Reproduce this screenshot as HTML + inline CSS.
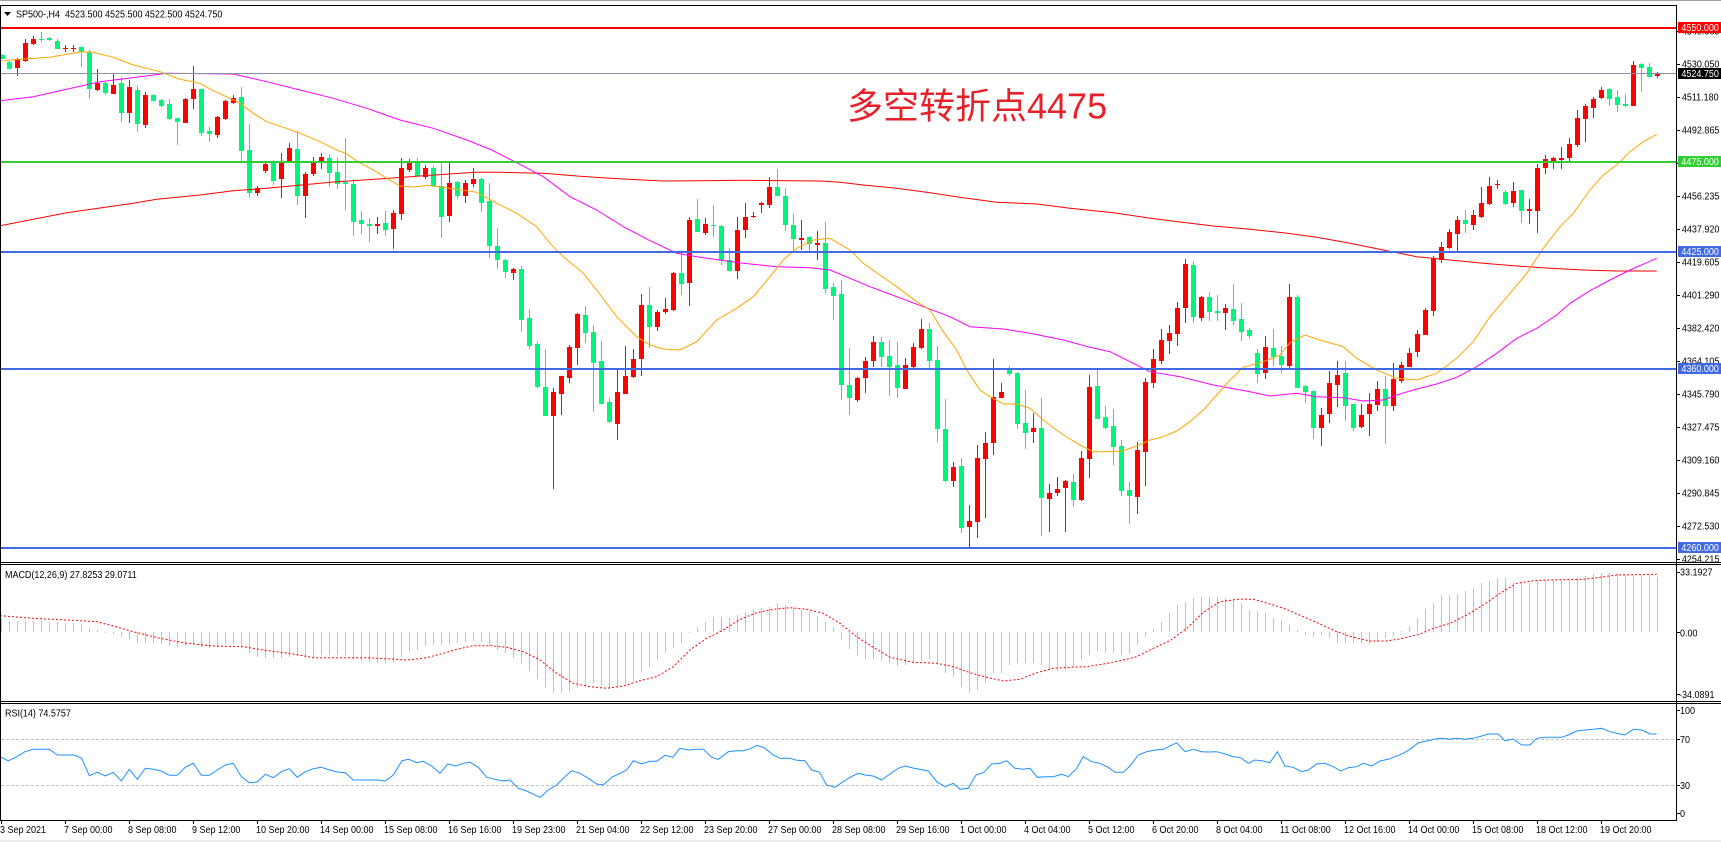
<!DOCTYPE html>
<html><head><meta charset="utf-8"><style>
html,body{margin:0;padding:0;background:#fff;overflow:hidden}
svg{display:block}
text{font-family:"Liberation Sans",Arial,sans-serif}
</style></head><body>
<svg width="1721" height="842" viewBox="0 0 1721 842" xmlns="http://www.w3.org/2000/svg">
<rect x="0" y="0" width="1721" height="842" fill="#fff"/>
<rect x="0" y="0" width="1721" height="1" fill="#a0a0a0"/>
<rect x="0" y="840" width="1721" height="2" fill="#ececec"/>

<!-- MACD histogram -->
<path fill="none" stroke="#c0c0c0" stroke-width="1" shape-rendering="crispEdges" d="M1.5 632V619M9.5 632V621M17.5 632V621M25.5 632V621M33.5 632V621M41.5 632V621M49.5 632V622M57.5 632V622M65.5 632V623M73.5 632V623M81.5 632V624M89.5 632V628M97.5 632V630M105.5 632V633M113.5 632V634M121.5 632V637M129.5 632V639M137.5 632V643M145.5 632V643M153.5 632V643M161.5 632V644M169.5 632V646M177.5 632V647M185.5 632V646M193.5 632V644M201.5 632V647M209.5 632V648M217.5 632V647M225.5 632V644M233.5 632V644M241.5 632V647M249.5 632V653M257.5 632V657M265.5 632V658M273.5 632V658M281.5 632V658M289.5 632V657M297.5 632V656M305.5 632V657M313.5 632V658M321.5 632V655M329.5 632V655M337.5 632V655M345.5 632V656M353.5 632V659M361.5 632V661M369.5 632V662M377.5 632V663M385.5 632V663M393.5 632V662M401.5 632V657M409.5 632V652M417.5 632V650M425.5 632V646M433.5 632V645M441.5 632V645M449.5 632V644M457.5 632V643M465.5 632V642M473.5 632V641M481.5 632V642M489.5 632V646M497.5 632V650M505.5 632V653M513.5 632V658M521.5 632V664M529.5 632V671M537.5 632V679M545.5 632V688M553.5 632V693M561.5 632V693M569.5 632V692M577.5 632V687M585.5 632V687M593.5 632V683M601.5 632V685M609.5 632V688M617.5 632V687M625.5 632V685M633.5 632V681M641.5 632V672M649.5 632V667M657.5 632V660M665.5 632V653M673.5 632V648M681.5 632V643M689.5 632V633M697.5 632V627M705.5 632V622M713.5 632V617M721.5 632V617M729.5 632V618M737.5 632V615M745.5 632V612M753.5 632V610M761.5 632V608M769.5 632V607M777.5 632V603M785.5 632V605M793.5 632V608M801.5 632V610M809.5 632V612M817.5 632V616M825.5 632V622M833.5 632V627M841.5 632V640M849.5 632V649M857.5 632V656M865.5 632V659M873.5 632V659M881.5 632V661M889.5 632V663M897.5 632V666M905.5 632V665M913.5 632V663M921.5 632V660M929.5 632V659M937.5 632V665M945.5 632V673M953.5 632V677M961.5 632V687M969.5 632V693M977.5 632V690M985.5 632V683M993.5 632V673M1001.5 632V673M1009.5 632V665M1017.5 632V663M1025.5 632V663M1033.5 632V663M1041.5 632V665M1049.5 632V670M1057.5 632V671M1065.5 632V670M1073.5 632V667M1081.5 632V660M1089.5 632V655M1097.5 632V651M1105.5 632V653M1113.5 632V653M1121.5 632V655M1129.5 632V654M1137.5 632V645M1145.5 632V637M1153.5 632V629M1161.5 632V622M1169.5 632V613M1177.5 632V605M1185.5 632V602M1193.5 632V598M1201.5 632V597M1209.5 632V597M1217.5 632V597M1225.5 632V598M1233.5 632V600M1241.5 632V603M1249.5 632V610M1257.5 632V611M1265.5 632V613M1273.5 632V618M1281.5 632V620M1289.5 632V625M1297.5 632V630M1305.5 632V635M1313.5 632V637M1321.5 632V635M1329.5 632V638M1337.5 632V643M1345.5 632V643M1353.5 632V643M1361.5 632V643M1369.5 632V644M1377.5 632V642M1385.5 632V638M1393.5 632V635M1401.5 632V631M1409.5 632V626M1417.5 632V618M1425.5 632V609M1433.5 632V603M1441.5 632V595M1449.5 632V595M1457.5 632V594M1465.5 632V591M1473.5 632V588M1481.5 632V583M1489.5 632V581M1497.5 632V578M1505.5 632V578M1513.5 632V582M1521.5 632V582M1529.5 632V583M1537.5 632V581M1545.5 632V580M1553.5 632V580M1561.5 632V580M1569.5 632V580M1577.5 632V578M1585.5 632V576M1593.5 632V574M1601.5 632V573M1609.5 632V573M1617.5 632V573M1625.5 632V575M1633.5 632V575M1641.5 632V575M1649.5 632V575M1657.5 632V577"/>
<!-- MACD signal -->
<polyline fill="none" stroke="#ff0000" stroke-width="1" stroke-dasharray="2 2" points="0,615.7 33.3,618.3 66.7,620 96.7,621.7 113.3,626 133.3,631.7 160,638.3 186.7,643.3 213.3,646 243.3,646.7 263.3,650 293.3,654 313.3,657.7 366.7,657.7 390,659 406.7,660 423.3,658.3 440,654.3 456.7,649.3 473.3,645.7 490,645.7 506.7,647.3 523.3,651.7 540,660 556.7,673.3 573.3,683.3 590,686.7 606.7,688.3 623.3,686 640,680.7 656.7,676.7 673.3,666.7 690,650 706.7,638.3 723.3,630 740,619.3 756.7,612.7 773.3,609.3 790,607.7 806.7,609.3 823.3,613.3 840,623.3 856.7,636.7 873.3,647.3 890,657.3 912.7,662.3 936.7,663.3 953.3,666.7 970,672.7 986.7,677.3 1003.3,681 1020,679.3 1036.7,672.7 1053.3,668.3 1070,667.3 1086.7,666.7 1103.3,664 1120,660.7 1136.7,656.7 1153.3,648.3 1170,640.7 1186.7,628.3 1203.3,612.3 1220,601.7 1240,599 1253.3,599.3 1270,604 1286.7,609.3 1303.3,616.7 1320,624 1336.7,631.7 1353.3,637.3 1370,641 1386.7,641 1403.3,638.3 1420,634 1433.3,628.3 1450,623.3 1466.7,615 1483.3,605 1500,593.3 1516.7,583.3 1533.3,580.7 1550,580 1583.3,579.3 1600,577.3 1616.7,575 1656.7,574.3"/>

<!-- RSI levels -->
<path stroke="#c0c0c0" stroke-width="1" stroke-dasharray="3 2" shape-rendering="crispEdges" d="M1 739.5H1676M1 785.5H1676"/>
<polyline fill="none" stroke="#1e90ff" stroke-width="1" points="0,756.7 8.3,761 16.7,756.7 25,751.7 33.3,749.3 49.3,749.3 57.3,755 74,755 81.7,758.3 89.3,775.7 97.3,772.3 105.3,776 113.3,772.3 121.3,781 129.3,769.3 137.3,779.3 145.3,768.3 153.3,769.3 161.3,771 169.3,775.3 177.3,775.3 185.3,767.3 193.3,763.3 201.3,775.3 209.3,775.3 217.3,770 225.3,765 233.3,763.3 241.3,776.7 249.3,782.7 257.3,782 265.3,774.3 273.3,777.7 281.3,771.7 289.3,768.7 297.3,777.3 305.3,771.7 313.3,768.7 321.3,767.3 329.3,770 337.3,772 345.3,772.7 353.3,780 377.3,780 385.3,781 393.3,775 402,760.7 408.7,759.3 416.7,762.7 423.3,761.3 431.7,766 440,773.3 447.7,764 455.7,766 463.3,763.3 470,762.3 478.3,767.3 486.7,777.3 495,779.3 503.3,781 510,780 518.3,788.3 526.7,791 533.3,794.3 540,797.3 548.3,790 556.7,785 563.3,778.3 571.7,770.7 580,773.3 588.3,778.3 596.7,784 603.3,785 611.7,777.3 620,773.3 626.7,770 633.3,760.7 641.7,764 649.3,761.3 656.7,761.3 665,755.3 672.7,757.3 680,748.3 688.3,750 696,749.3 703.3,749.3 711.7,757.3 718.3,759.3 728.3,751.7 736.7,750.7 743.3,750.7 750,748.7 757.3,745.3 765,748.3 773.3,755 780,758.3 790,758.3 796.7,760.3 805,760.7 811.7,770 819.3,772 826.7,785 835,787.3 841.7,782.7 850,777.3 858.3,773.3 865,775 873.3,776 881.7,780 890,774 898.3,768.3 905,766 913,768 928.3,771 936.7,781.7 945,786.7 953.3,783.3 960,789.3 968.3,788.3 976,775 983.3,772.7 991.7,764 1000,763.3 1006.7,760.7 1015,768.3 1022.7,769.3 1030,768.3 1037.3,777.3 1046.7,776.7 1053.3,776.7 1061.7,774.3 1068.3,776.7 1076.7,768.3 1083.3,756.7 1091.7,761.7 1100,763.3 1108.3,767.3 1115,772.3 1123.3,772.3 1130,766 1138.3,755 1146.7,751.7 1155,750 1163.3,749.3 1176.7,742.7 1185,751.7 1193.3,749.3 1201.7,751.7 1208.3,752 1216.7,751.7 1225,754 1233.3,756.7 1240,757.3 1248.3,763.3 1255,760 1263.3,761 1270,762.7 1277.3,751.7 1285,766 1293.3,767.3 1301.7,771.7 1308.3,770 1316.7,764 1325,763.3 1333.3,766.7 1340.7,771 1348.3,767.7 1356.7,766.7 1363.3,763.3 1371.7,766 1380,761 1388.3,759.3 1395,756.7 1403.3,753.3 1410,749.3 1418.3,742.7 1426.7,741 1435,739 1442.7,738.3 1450,739.3 1456.7,738.3 1465,739.3 1473.3,738.3 1481.7,736 1488.3,734 1498.3,734 1505,740.7 1513.3,739 1521.7,745 1530,745 1536.7,738.3 1545,737.3 1561.7,737.3 1568.3,735 1576.7,731 1585,730 1593.3,729.3 1601.7,728.3 1610,731.7 1616.7,733.3 1625,735 1633.3,729.3 1641.7,730 1650,734 1656.7,734"/>

<!-- candles: red (up) -->
<path fill="none" stroke="#ff0000" stroke-width="1" shape-rendering="crispEdges" d="M17.5 58V76M25.5 39V62M33.5 36V45M65.5 45V52M73.5 45V52M97.5 69V91M113.5 74V94M129.5 80V123M145.5 92V128M185.5 98V123M193.5 66V109M217.5 116V138M225.5 100V120M233.5 95V104M257.5 186V196M265.5 163V173M281.5 153V198M289.5 143V163M305.5 172V218M313.5 157V176M321.5 153V169M377.5 217V234M393.5 210V249M401.5 158V220M409.5 159V172M425.5 165V179M449.5 163V222M465.5 180V203M473.5 168V187M513.5 268V280M553.5 388V489M561.5 376V415M569.5 345V383M577.5 313V365M617.5 370V440M625.5 346V394M633.5 349V378M641.5 294V376M657.5 310V331M665.5 298V314M673.5 272V311M689.5 217V306M705.5 218V235M737.5 217V279M745.5 203V238M753.5 212V218M761.5 202V213M769.5 177V208M801.5 220V250M817.5 231V260M857.5 377V402M865.5 357V393M873.5 336V367M905.5 358V389M913.5 343V368M921.5 319V349M953.5 462V487M969.5 505V549M977.5 445V538M985.5 432V518M993.5 359V455M1001.5 383V398M1033.5 413V443M1049.5 484V532M1057.5 477V496M1065.5 480V532M1081.5 451V501M1089.5 375V478M1137.5 442V514M1145.5 378V486M1153.5 349V388M1161.5 329V364M1169.5 325V354M1177.5 302V346M1185.5 259V323M1201.5 296V321M1225.5 304V330M1265.5 336V379M1289.5 284V368M1321.5 408V446M1329.5 371V423M1337.5 361V407M1361.5 404V428M1369.5 393V436M1377.5 381V411M1393.5 363V411M1401.5 362V383M1409.5 348V367M1417.5 330V357M1425.5 308V335M1433.5 256V316M1441.5 242V263M1449.5 229V249M1457.5 216V251M1473.5 210V230M1481.5 187V218M1489.5 177V205M1497.5 180V189M1513.5 182V207M1529.5 199V224M1537.5 164V233M1545.5 155V174M1553.5 157V169M1561.5 147V169M1569.5 138V161M1577.5 110V147M1585.5 104V142M1593.5 97V118M1601.5 87V99M1633.5 61V106M1657.5 72V78"/>
<path fill="#ff0000" shape-rendering="crispEdges" d="M15 59h5V68h-5zM23 43h5V61h-5zM31 39h5V44h-5zM63 48h5V49h-5zM71 48h5V49h-5zM95 83h5V90h-5zM111 85h5V94h-5zM127 87h5V113h-5zM143 95h5V125h-5zM183 99h5V123h-5zM191 89h5V99h-5zM215 117h5V135h-5zM223 101h5V119h-5zM231 98h5V103h-5zM255 188h5V193h-5zM263 164h5V171h-5zM279 162h5V179h-5zM287 148h5V161h-5zM303 174h5V196h-5zM311 162h5V174h-5zM319 157h5V162h-5zM375 224h5V226h-5zM391 213h5V229h-5zM399 168h5V214h-5zM407 163h5V170h-5zM423 168h5V177h-5zM447 183h5V216h-5zM463 183h5V196h-5zM471 179h5V184h-5zM511 269h5V273h-5zM551 392h5V416h-5zM559 376h5V394h-5zM567 347h5V378h-5zM575 314h5V348h-5zM615 392h5V424h-5zM623 376h5V394h-5zM631 359h5V377h-5zM639 305h5V359h-5zM655 312h5V327h-5zM663 309h5V312h-5zM671 273h5V310h-5zM687 220h5V283h-5zM703 224h5V233h-5zM735 230h5V271h-5zM743 217h5V230h-5zM751 216h5V217h-5zM759 203h5V205h-5zM767 187h5V205h-5zM799 238h5V240h-5zM815 243h5V245h-5zM855 378h5V400h-5zM863 361h5V378h-5zM871 342h5V361h-5zM903 365h5V389h-5zM911 347h5V367h-5zM919 329h5V348h-5zM951 467h5V481h-5zM967 521h5V527h-5zM975 458h5V522h-5zM983 443h5V459h-5zM991 397h5V443h-5zM999 392h5V398h-5zM1031 428h5V432h-5zM1047 493h5V499h-5zM1055 489h5V493h-5zM1063 481h5V488h-5zM1079 458h5V500h-5zM1087 387h5V459h-5zM1135 450h5V497h-5zM1143 382h5V452h-5zM1151 359h5V383h-5zM1159 340h5V361h-5zM1167 333h5V341h-5zM1175 308h5V334h-5zM1183 264h5V308h-5zM1199 297h5V318h-5zM1223 308h5V313h-5zM1263 347h5V373h-5zM1287 297h5V366h-5zM1319 415h5V428h-5zM1327 383h5V414h-5zM1335 375h5V385h-5zM1359 415h5V427h-5zM1367 404h5V414h-5zM1375 389h5V405h-5zM1391 379h5V406h-5zM1399 365h5V381h-5zM1407 353h5V367h-5zM1415 334h5V352h-5zM1423 310h5V335h-5zM1431 258h5V311h-5zM1439 247h5V260h-5zM1447 232h5V248h-5zM1455 220h5V234h-5zM1471 215h5V225h-5zM1479 203h5V217h-5zM1487 186h5V204h-5zM1495 184h5V185h-5zM1511 191h5V203h-5zM1527 209h5V211h-5zM1535 168h5V211h-5zM1543 159h5V168h-5zM1551 158h5V162h-5zM1559 158h5V160h-5zM1567 144h5V158h-5zM1575 118h5V145h-5zM1583 106h5V119h-5zM1591 99h5V108h-5zM1599 90h5V98h-5zM1631 65h5V106h-5zM1655 73h5V76h-5z"/>
<!-- candles: green (down) -->
<path fill="none" stroke="#00f57a" stroke-width="1" shape-rendering="crispEdges" d="M1.5 54V59M9.5 61V69M41.5 32V42M49.5 37V41M57.5 39V49M81.5 46V67M89.5 50V99M105.5 82V95M121.5 77V122M137.5 86V132M153.5 94V101M161.5 99V107M169.5 99V120M177.5 118V145M201.5 89V136M209.5 127V142M241.5 87V161M249.5 124V197M273.5 160V185M297.5 131V205M329.5 154V187M337.5 158V189M345.5 138V210M353.5 179V236M361.5 211V234M369.5 218V242M385.5 211V236M417.5 158V176M433.5 166V187M441.5 163V238M457.5 181V199M481.5 178V212M489.5 183V258M497.5 228V269M505.5 259V278M521.5 266V332M529.5 309V349M537.5 342V388M545.5 349V416M585.5 306V343M593.5 325V412M601.5 341V404M609.5 398V423M649.5 287V348M681.5 254V295M697.5 199V232M713.5 205V237M721.5 225V265M729.5 248V271M777.5 169V196M785.5 188V231M793.5 214V250M809.5 236V252M825.5 222V293M833.5 283V320M841.5 280V400M849.5 348V415M881.5 337V367M889.5 340V396M897.5 342V398M929.5 323V368M937.5 346V442M945.5 399V482M961.5 458V533M1009.5 366V376M1017.5 372V429M1025.5 390V449M1041.5 398V536M1073.5 474V507M1097.5 370V419M1105.5 406V429M1113.5 409V465M1121.5 440V496M1129.5 482V524M1193.5 261V323M1209.5 292V321M1217.5 295V321M1233.5 284V325M1241.5 303V341M1249.5 328V339M1257.5 349V383M1273.5 329V366M1281.5 346V373M1297.5 295V388M1305.5 385V403M1313.5 390V439M1345.5 361V421M1353.5 404V431M1385.5 376V444M1465.5 210V233M1505.5 190V205M1521.5 190V223M1609.5 88V106M1617.5 90V112M1625.5 94V107M1641.5 63V92M1649.5 63V77"/>
<path fill="#00f57a" shape-rendering="crispEdges" d="M1 55h4V59h-4zM7 62h5V69h-5zM39 39h5V40h-5zM47 38h5V40h-5zM55 41h5V49h-5zM79 47h5V52h-5zM87 52h5V89h-5zM103 83h5V93h-5zM119 83h5V113h-5zM135 90h5V124h-5zM151 95h5V101h-5zM159 100h5V106h-5zM167 104h5V119h-5zM175 118h5V122h-5zM199 89h5V133h-5zM207 131h5V134h-5zM239 97h5V151h-5zM247 150h5V193h-5zM271 162h5V181h-5zM295 149h5V196h-5zM327 158h5V173h-5zM335 172h5V184h-5zM343 182h5V184h-5zM351 184h5V222h-5zM359 220h5V224h-5zM367 224h5V226h-5zM383 223h5V230h-5zM415 163h5V176h-5zM431 168h5V186h-5zM439 186h5V217h-5zM455 182h5V196h-5zM479 179h5V203h-5zM487 201h5V246h-5zM495 246h5V260h-5zM503 260h5V272h-5zM519 269h5V320h-5zM527 318h5V346h-5zM535 344h5V387h-5zM543 387h5V416h-5zM583 315h5V333h-5zM591 332h5V363h-5zM599 361h5V404h-5zM607 402h5V422h-5zM647 305h5V327h-5zM679 273h5V284h-5zM695 219h5V232h-5zM711 225h5V226h-5zM719 226h5V260h-5zM727 260h5V271h-5zM775 187h5V196h-5zM783 196h5V225h-5zM791 225h5V239h-5zM807 237h5V244h-5zM823 243h5V289h-5zM831 287h5V296h-5zM839 294h5V385h-5zM847 385h5V398h-5zM879 342h5V357h-5zM887 356h5V367h-5zM895 365h5V388h-5zM927 329h5V361h-5zM935 360h5V429h-5zM943 429h5V481h-5zM959 466h5V528h-5zM1007 369h5V374h-5zM1015 373h5V424h-5zM1023 423h5V433h-5zM1039 428h5V498h-5zM1071 482h5V500h-5zM1095 386h5V419h-5zM1103 417h5V428h-5zM1111 426h5V447h-5zM1119 446h5V491h-5zM1127 490h5V496h-5zM1191 265h5V317h-5zM1207 297h5V312h-5zM1215 311h5V313h-5zM1231 309h5V321h-5zM1239 319h5V332h-5zM1247 330h5V336h-5zM1255 353h5V374h-5zM1271 348h5V357h-5zM1279 356h5V365h-5zM1295 297h5V388h-5zM1303 386h5V392h-5zM1311 391h5V428h-5zM1343 373h5V406h-5zM1351 404h5V428h-5zM1383 389h5V406h-5zM1463 220h5V224h-5zM1503 192h5V204h-5zM1519 190h5V211h-5zM1607 89h5V99h-5zM1615 97h5V105h-5zM1623 104h5V106h-5zM1639 64h5V68h-5zM1647 67h5V77h-5z"/>

<!-- moving averages -->
<polyline fill="none" stroke="#ff0000" stroke-width="1" points="0,225.7 66.7,212.7 133.3,203.3 156.7,199.3 200,195 233.3,190.7 266.7,188.3 333.3,182 400,177.5 420,176 460,173.3 476.7,172.3 500,172.3 543.3,173.3 576.7,176 610,178.3 663.3,181 700,180.7 743.3,180.3 820,181 840,182.3 863.3,185 896.7,188.3 930,192.7 963.3,197.7 996.7,202.3 1036.7,204 1070,208.3 1113.3,212.7 1146.7,217.7 1180,222 1213.3,226 1250,229.3 1283.3,232.7 1316.7,237.3 1350,243.3 1383.3,250 1416.7,256.7 1450,260 1483.3,263.3 1516.7,266 1550,268.3 1583.3,270 1616.7,271 1656.7,271"/>
<polyline fill="none" stroke="#ff00ff" stroke-width="1" points="0,100.7 33.3,96.7 66.7,89.3 100,81.7 140,76.7 166.7,73.3 233.3,74 266.7,81.7 300,90 333.3,98.3 366.7,108.3 400,120 433.3,128.3 466.7,140 491.7,150 516.7,162.7 543.3,176.7 570,196.7 596.7,210 623.3,226.7 650,240.7 676.7,253.3 703.3,257.7 743.3,263.3 776.7,266.7 810,267.7 830,270 850,278.3 870,286.7 896.7,296.7 923.3,306.7 950,316.7 970,326.7 1003.3,329 1030,333.3 1063.3,340 1090,347.3 1110,351.7 1130,361.7 1150,371.7 1180,376.7 1213.3,385 1250,391.7 1270,396 1296.7,393.3 1316.7,396.7 1343.3,397.7 1363.3,401 1383.3,400 1396.7,395 1416.7,389 1436.7,384 1456.7,377.3 1476.7,366.7 1496.7,353.3 1516.7,338.3 1536.7,328.3 1556.7,315 1570,303.3 1590,290.7 1610,280 1630,270 1656.7,258.3"/>
<polyline fill="none" stroke="#ffa500" stroke-width="1" points="0,61 20,59.3 50,57.3 66.7,54.3 81.7,51.7 93.3,52.3 113.3,57.3 133.3,65 160,71.7 180,79.3 200,83.3 213.3,90.7 230,98.3 240,103.3 253.3,113.3 266.7,121.7 283.3,127.3 300,133.3 320,141.7 333.3,148.3 346.7,154 358.3,162 373.3,170 386.7,178.3 400,186 413.3,187 426.7,185.3 443.3,187.3 476.7,192.3 496.7,203.3 516.7,213.3 536.7,226.7 550,243.3 563.3,256.7 583.3,273.3 596.7,290 616.7,316.7 636.7,336.7 650,345 663.3,349 680,350 696.7,341.7 716.7,320 736.7,308.3 753.3,296.7 770,276.7 783.3,260 796.7,248.3 813.3,240 830,238.3 850,250 863.3,263.3 880,275 896.7,286.7 916.7,301.7 930,310 943.3,331.7 956.7,350 966.7,370 980,390 990,396.7 1003.3,404 1016.7,404 1030,408.3 1043.3,420 1063.3,435 1080,445 1093.3,451.7 1106.7,451.7 1123.3,450.7 1136.7,446 1150,440 1163.3,436.7 1176.7,431 1190,421.7 1203.3,410 1216.7,395 1230,380 1243.3,367.3 1263.3,361.7 1280,355 1290,342.7 1305,335 1320,340 1343.3,346.7 1356.7,358.3 1376.7,370 1396.7,378.3 1416.7,380 1436.7,373.3 1456.7,358.3 1473.3,341.7 1490,316.7 1510,293.3 1526.7,273.3 1543.3,248.3 1560,226.7 1573.3,213.3 1590,190 1603.3,175 1616.7,165 1630,151.7 1643.3,141.7 1656.7,134.3"/>

<!-- horizontal lines -->
<g shape-rendering="crispEdges">
<rect x="1" y="27" width="1676" height="2" fill="#ff0000"/>
<rect x="1" y="73" width="1676" height="1" fill="#8394a6"/>
<rect x="1" y="161" width="1676" height="2" fill="#32cd32"/>
<rect x="1" y="251" width="1676" height="2" fill="#4169e1"/>
<rect x="1" y="368" width="1676" height="2" fill="#4169e1"/>
<rect x="1" y="547" width="1676" height="2" fill="#4169e1"/>
</g>

<!-- chinese annotation -->
<text x="847" y="118.5" font-size="36" fill="#e62129" style='font-family:"Liberation Sans","Noto Sans CJK SC",sans-serif'>多空转折点4475</text>

<!-- frames -->
<path fill="none" stroke="#000" stroke-width="1" shape-rendering="crispEdges" d="M0 5.5H1677M0 562.5H1721M0 564.5H1721M0 701.5H1721M0 703.5H1721M0 820.5H1677M0.5 5V821M1676.5 5V821"/>
<!-- axis ticks -->
<path fill="none" stroke="#000" stroke-width="1" shape-rendering="crispEdges" d="M1677 31.5h3M1677 64.5h3M1677 97.5h3M1677 130.5h3M1677 163.5h3M1677 196.5h3M1677 229.5h3M1677 262.5h3M1677 295.5h3M1677 328.5h3M1677 361.5h3M1677 394.5h3M1677 427.5h3M1677 460.5h3M1677 493.5h3M1677 526.5h3M1677 559.5h3M1677 572.5h3M1677 632.5h3M1677 694.5h3M1677 710.5h3M1677 739.5h3M1677 785.5h3M1677 813.5h3M1.5 821v3M65.5 821v3M129.5 821v3M193.5 821v3M257.5 821v3M321.5 821v3M385.5 821v3M449.5 821v3M513.5 821v3M577.5 821v3M641.5 821v3M705.5 821v3M769.5 821v3M833.5 821v3M897.5 821v3M961.5 821v3M1025.5 821v3M1089.5 821v3M1153.5 821v3M1217.5 821v3M1281.5 821v3M1345.5 821v3M1409.5 821v3M1473.5 821v3M1537.5 821v3M1601.5 821v3"/>

<!-- title triangle -->
<polygon points="4,12 11,12 7.5,16" fill="#000"/>

<!-- small text (condensed) -->
<g transform="scale(0.857 1)" font-size="10.5" fill="#000">
<text x="18.7" y="17.3">SP500-,H4&#160; 4523.500 4525.500 4522.500 4524.750</text>
<text x="5.8" y="578">MACD(12,26,9) 27.8253 29.0711</text>
<text x="5.8" y="716.5">RSI(14) 74.5757</text>

<text x="1962.5" y="34.7">4548.365</text>
<text x="1962.5" y="67.7">4530.050</text>
<text x="1962.5" y="100.7">4511.180</text>
<text x="1962.5" y="133.7">4492.865</text>
<text x="1962.5" y="166.7">4474.550</text>
<text x="1962.5" y="199.7">4456.235</text>
<text x="1962.5" y="232.7">4437.920</text>
<text x="1962.5" y="265.7">4419.605</text>
<text x="1962.5" y="298.7">4401.290</text>
<text x="1962.5" y="331.7">4382.420</text>
<text x="1962.5" y="364.7">4364.105</text>
<text x="1962.5" y="397.7">4345.790</text>
<text x="1962.5" y="430.7">4327.475</text>
<text x="1962.5" y="463.7">4309.160</text>
<text x="1962.5" y="496.7">4290.845</text>
<text x="1962.5" y="529.7">4272.530</text>
<text x="1962.5" y="562.7">4254.215</text>

<text x="1960.3" y="575.4">33.1927</text>
<text x="1960.3" y="636.4">0.00</text>
<text x="1959.2" y="698">-34.0891</text>
<text x="1960.3" y="714">100</text>
<text x="1960.3" y="743">70</text>
<text x="1960.3" y="789">30</text>
<text x="1960.3" y="817">0</text>

<text x="0" y="833">3 Sep 2021</text>
<text x="74.7" y="833">7 Sep 00:00</text>
<text x="149.4" y="833">8 Sep 08:00</text>
<text x="224" y="833">9 Sep 12:00</text>
<text x="298.7" y="833">10 Sep 20:00</text>
<text x="373.4" y="833">14 Sep 00:00</text>
<text x="448.1" y="833">15 Sep 08:00</text>
<text x="522.8" y="833">16 Sep 16:00</text>
<text x="597.4" y="833">19 Sep 23:00</text>
<text x="672.1" y="833">21 Sep 04:00</text>
<text x="746.8" y="833">22 Sep 12:00</text>
<text x="821.5" y="833">23 Sep 20:00</text>
<text x="896.2" y="833">27 Sep 00:00</text>
<text x="970.8" y="833">28 Sep 08:00</text>
<text x="1045.5" y="833">29 Sep 16:00</text>
<text x="1120.2" y="833">1 Oct 00:00</text>
<text x="1194.9" y="833">4 Oct 04:00</text>
<text x="1269.6" y="833">5 Oct 12:00</text>
<text x="1344.2" y="833">6 Oct 20:00</text>
<text x="1418.9" y="833">8 Oct 04:00</text>
<text x="1493.6" y="833">11 Oct 08:00</text>
<text x="1568.3" y="833">12 Oct 16:00</text>
<text x="1642.9" y="833">14 Oct 00:00</text>
<text x="1717.6" y="833">15 Oct 08:00</text>
<text x="1792.3" y="833">18 Oct 12:00</text>
<text x="1867" y="833">19 Oct 20:00</text>
</g>

<!-- highlighted price labels -->
<g shape-rendering="crispEdges">
<rect x="1678" y="22" width="43" height="11" fill="#ff0000"/>
<rect x="1678" y="68" width="43" height="11" fill="#000"/>
<rect x="1678" y="156" width="43" height="11" fill="#32cd32"/>
<rect x="1678" y="246" width="43" height="11" fill="#4169e1"/>
<rect x="1678" y="363" width="43" height="11" fill="#4169e1"/>
<rect x="1678" y="542" width="43" height="11" fill="#4169e1"/>
</g>
<g transform="scale(0.857 1)" font-size="10.5" fill="#fff">
<text x="1962" y="31.2">4550.000</text>
<text x="1962" y="77.2">4524.750</text>
<text x="1962" y="165.2">4475.000</text>
<text x="1962" y="255.2">4425.000</text>
<text x="1962" y="372.2">4360.000</text>
<text x="1962" y="551.2">4260.000</text>
</g>
</svg>
</body></html>
